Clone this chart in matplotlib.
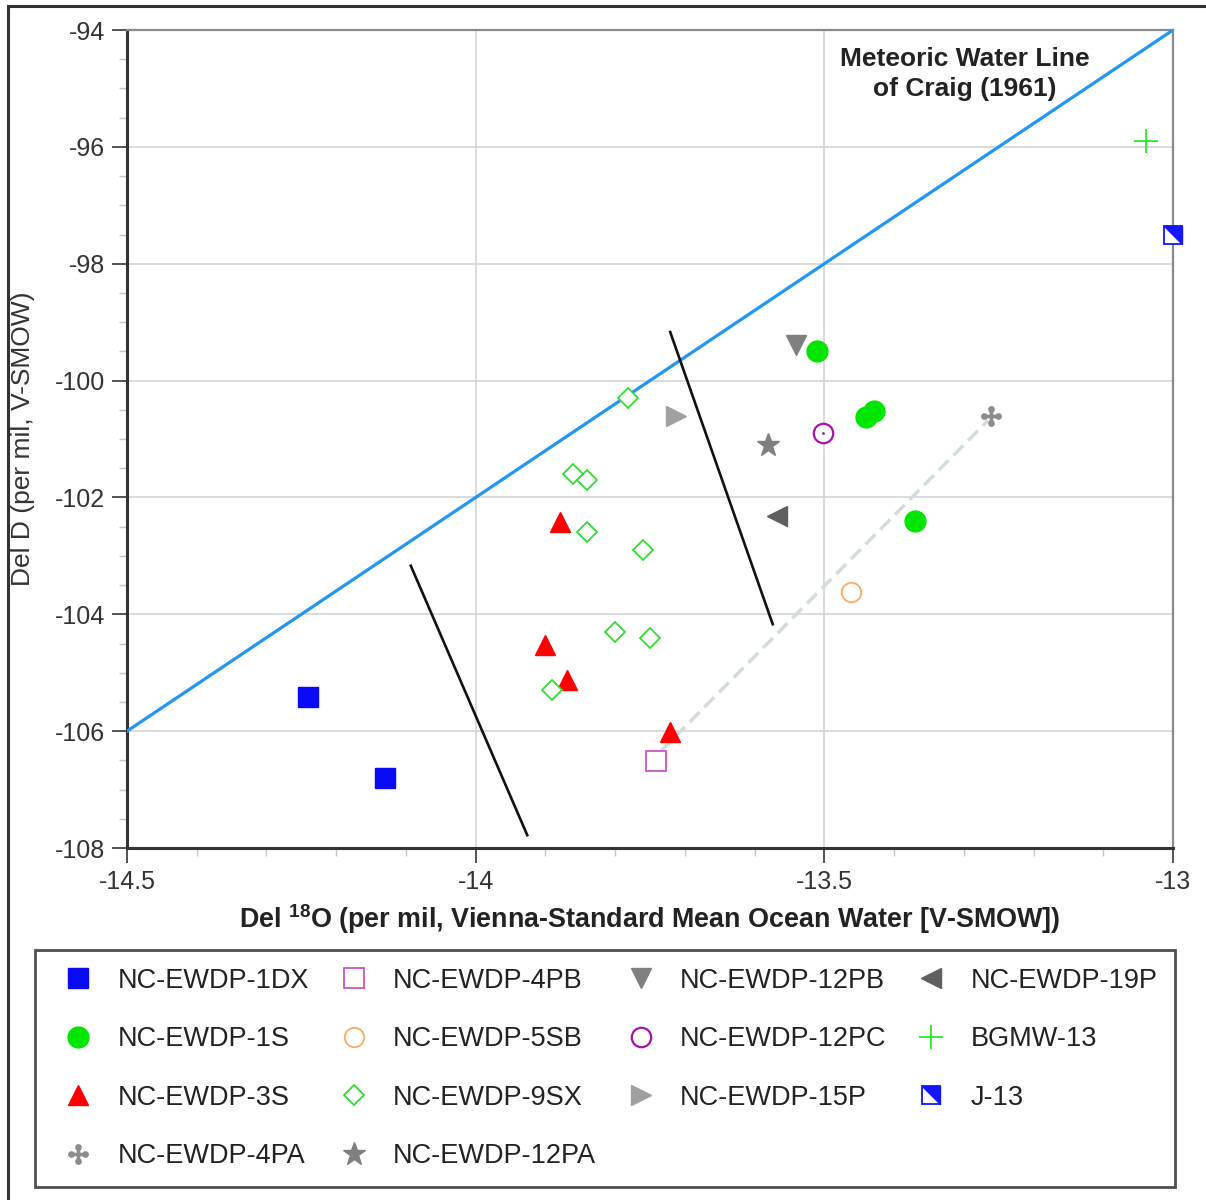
import matplotlib
matplotlib.use('Agg')
import matplotlib.pyplot as plt
from matplotlib.path import Path
from matplotlib.patches import Rectangle
from matplotlib.legend_handler import HandlerTuple
import numpy as np

plt.rcParams['font.family'] = ['Liberation Sans', 'DejaVu Sans']
plt.rcParams['mathtext.fontset'] = 'custom'
plt.rcParams['mathtext.rm'] = 'Liberation Sans'
plt.rcParams['mathtext.bf'] = 'Liberation Sans:bold'
plt.rcParams['axes.unicode_minus'] = False

# Datos (del 18O, del D)
o18_1dx = [-14.24, -14.13]
dd_1dx = [-105.42, -106.80]
o18_1s = [-13.51, -13.44, -13.429, -13.37]
dd_1s = [-99.49, -100.62, -100.52, -102.40]
o18_3s = [-13.879, -13.901, -13.869, -13.721]
dd_3s = [-102.42, -104.53, -105.12, -106.01]
o18_4pa = [-13.261]
dd_4pa = [-100.61]
o18_4pb = [-13.741]
dd_4pb = [-106.51]
o18_5sb = [-13.462]
dd_5sb = [-103.62]
o18_9sx = [-13.782, -13.86, -13.84, -13.84, -13.76, -13.80, -13.75, -13.89]
dd_9sx = [-100.30, -101.60, -101.70, -102.59, -102.90, -104.30, -104.41, -105.30]
o18_12pa = [-13.581]
dd_12pa = [-101.10]
o18_12pb = [-13.541]
dd_12pb = [-99.39]
o18_12pc = [-13.502]
dd_12pc = [-100.90]
o18_15p = [-13.713]
dd_15p = [-100.61]
o18_19p = [-13.568]
dd_19p = [-102.32]
o18_bgmw = [-13.039]
dd_bgmw = [-95.90]
o18_j13 = [-13.0]
dd_j13 = [-97.51]

# Linea meteorica de Craig: dD = 8*d18O + 10
o18_mwl = [-14.5, -13.0]
# lineas negras y linea de mezcla
o18_div1 = [-14.093, -13.926]
dd_div1 = [-103.17, -107.78]
o18_div2 = [-13.721, -13.574]
dd_div2 = [-99.17, -104.17]
o18_mix = [-13.735, -13.265]
dd_mix = [-106.35, -100.68]

# marcador tipo cruz con puntos (NC-EWDP-4PA)
partes = []
for (cx, cy) in [(0.36, 0), (-0.36, 0), (0, 0.36), (0, -0.36)]:
    partes.append(Path.circle((cx, cy), 0.17))
partes.append(Path([(-0.36, -0.09), (0.36, -0.09), (0.36, 0.09), (-0.36, 0.09), (-0.36, -0.09)], closed=True))
partes.append(Path([(-0.09, -0.36), (0.09, -0.36), (0.09, 0.36), (-0.09, 0.36), (-0.09, -0.36)], closed=True))
cruz = Path.make_compound_path(*partes)

# medio cuadrado (J-13)
medio = Path([(-0.5, 0.5), (0.5, 0.5), (0.5, -0.5), (-0.5, 0.5)], closed=True)

fig = plt.figure(figsize=(12.06, 12.0), dpi=100)
ax = fig.add_axes([127/1206, 1-848/1200, (1173-127)/1206, (848-30)/1200])

ax.plot(o18_mwl, [8*x + 10 for x in o18_mwl], color='#2196f3', lw=2.3, zorder=3)
ax.plot(o18_div1, dd_div1, color='#111111', lw=1.9, zorder=3)
ax.plot(o18_div2, dd_div2, color='#111111', lw=1.9, zorder=3)
ax.plot(o18_mix, dd_mix, color='#d2ddd8', lw=2.5, ls=(0, (4, 2)), zorder=2)

kw = dict(ls='none', zorder=4)
h1, = ax.plot(o18_1dx, dd_1dx, marker='s', ms=15, color='#0a0af5', mec='#0a0af5', **kw)
h2, = ax.plot(o18_1s, dd_1s, marker='o', ms=15, color='#00e600', mec='#00e600', **kw)
h3, = ax.plot(o18_3s, dd_3s, marker='^', ms=15, color='#ff0000', mec='#ff0000', **kw)
h4, = ax.plot(o18_4pa, dd_4pa, marker=cruz, ms=15, color='#8c8c8c', mec='none', **kw)
h5, = ax.plot(o18_4pb, dd_4pb, marker='s', ms=14, mfc='white', mec='#cc55cc', mew=1.3, **kw)
h6, = ax.plot(o18_5sb, dd_5sb, marker='o', ms=14, mfc='white', mec='#ffaa60', mew=1.3, **kw)
h7, = ax.plot(o18_9sx, dd_9sx, marker='D', ms=10, mfc='white', mec='#33dd33', mew=1.3, **kw)
h8, = ax.plot(o18_12pa, dd_12pa, marker='*', ms=17, color='#7f7f7f', mec='#7f7f7f', **kw)
h9, = ax.plot(o18_12pb, dd_12pb, marker='v', ms=15, color='#808080', mec='#808080', **kw)
h10, = ax.plot(o18_12pc, dd_12pc, marker='o', ms=14, mfc='white', mec='#aa10aa', mew=1.6, **kw)
ax.plot(o18_12pc, dd_12pc, marker='.', ms=2, color='#aa10aa', **kw)
h11, = ax.plot(o18_15p, dd_15p, marker='>', ms=15, color='#a0a0a0', mec='#a0a0a0', **kw)
h12, = ax.plot(o18_19p, dd_19p, marker='<', ms=15, color='#5f5f5f', mec='#5f5f5f', **kw)
h13, = ax.plot(o18_bgmw, dd_bgmw, marker='+', ms=17, mew=1.3, color='#22ee22', **kw)
h14a, = ax.plot(o18_j13, dd_j13, marker='s', ms=13, mfc='white', mec='#1515ff', mew=1.3, **kw)
h14b, = ax.plot(o18_j13, dd_j13, marker=medio, ms=13, color='#1515ff', mec='#1515ff', mew=1.0, **kw)
for h in [h13, h14a, h14b]:
    h.set_clip_on(False)

ax.text(-13.298, -94.75, 'Meteoric Water Line\nof Craig (1961)', ha='center', va='center',
        fontsize=19, fontweight='bold', color='#222222', linespacing=1.3)

ax.set_xlim(-14.5, -13.0)
ax.set_ylim(-108, -94)
ax.set_xticks([-14.5, -14, -13.5, -13])
ax.set_xticklabels(['-14.5', '-14', '-13.5', '-13'])
ax.set_yticks(np.arange(-108, -93, 2))
ax.set_xticks(np.arange(-14.5, -12.99, 0.1), minor=True)
ax.set_yticks(np.arange(-108, -93.9, 0.5), minor=True)
ax.grid(True, which='major', color='#d4d4d4', lw=1.2)
ax.set_axisbelow(True)
ax.tick_params(which='major', length=11, width=1.3, color='#444444', labelsize=18,
               labelcolor='#333333', pad=5)
ax.tick_params(which='minor', length=6, width=1, color='#c4c4c4')
for s in ['left', 'bottom']:
    ax.spines[s].set_color('#333333')
    ax.spines[s].set_linewidth(2.2)
for s in ['top', 'right']:
    ax.spines[s].set_color('#8a8a8a')
    ax.spines[s].set_linewidth(1.6)

ax.set_xlabel(r'Del $^{\mathbf{18}}$O (per mil, Vienna-Standard Mean Ocean Water [V-SMOW])',
              fontsize=19.4, fontweight='bold', color='#222222')
ax.xaxis.set_label_coords(0.5, -0.066)
ax.set_ylabel('Del D (per mil, V-SMOW)', fontsize=19, color='#333333')
ax.yaxis.set_label_coords(-0.088, 0.5)

handles = [h1, h2, h3, h4, h5, h6, h7, h8, h9, h10, h11, h12, h13, (h14a, h14b)]
labels = ['NC-EWDP-1DX', 'NC-EWDP-1S', 'NC-EWDP-3S', 'NC-EWDP-4PA',
          'NC-EWDP-4PB', 'NC-EWDP-5SB', 'NC-EWDP-9SX', 'NC-EWDP-12PA',
          'NC-EWDP-12PB', 'NC-EWDP-12PC', 'NC-EWDP-15P',
          'NC-EWDP-19P', 'BGMW-13', 'J-13']
leg = fig.legend(handles, labels, ncol=4, loc='upper left',
                 bbox_to_anchor=(35/1206, 1-950/1200), bbox_transform=fig.transFigure,
                 fontsize=19.5, frameon=True, fancybox=False, borderpad=0.65,
                 handlelength=1.9, handletextpad=0.5, columnspacing=0.7,
                 labelspacing=1.2, borderaxespad=0,
                 handler_map={tuple: HandlerTuple(ndivide=1, pad=0)})
leg.get_frame().set_edgecolor('#222222')
leg.get_frame().set_linewidth(2.0)
for t in leg.get_texts():
    t.set_color('#222222')

# borde exterior de la figura
fig.patches.append(Rectangle((8/1206, -0.02), 1.05, 1-6/1200+0.02, transform=fig.transFigure,
                             fill=False, edgecolor='#333333', lw=2.2, clip_on=False))

fig.savefig('out.png', dpi=100)
